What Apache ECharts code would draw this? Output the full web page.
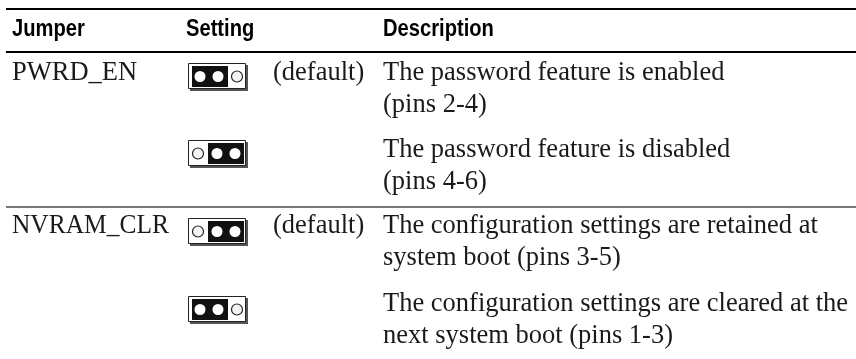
<!DOCTYPE html>
<html><head><meta charset="utf-8">
<style>html,body{margin:0;padding:0;background:#fff}#c{width:856px;height:359px}</style>
<script src="https://cdn.jsdelivr.net/npm/echarts@6/dist/echarts.min.js"></script>
</head><body><div id="c"></div>
<script>
const headers = ['Jumper', 'Setting', 'Description'];
const jumpers = ['PWRD_EN', '', 'NVRAM_CLR', ''];
const jumperScale = [1, 1, 0.96, 1];
const shorted = ['left', 'right', 'right', 'left'];
const defaults = ['(default)', '', '(default)', ''];
const descriptions = [
  ['The password feature is enabled', '(pins 2-4)'],
  ['The password feature is disabled', '(pins 4-6)'],
  ['The configuration settings are retained at', 'system boot (pins 3-5)'],
  ['The configuration settings are cleared at the', 'next system boot (pins 1-3)']
];
const headerX = [12, 186, 383];
const headerY = 29;
const rowY = [73, 150, 226, 304];
const iconTop = [63, 140, 218, 296];
const lineGap = 32;
const defaultX = 273;
const rules = [[6, 9, '#000'], [6, 52, '#000'], [6, 207, '#777']];
const SERIF = '"Liberation Serif", serif';
const SANS = '"Liberation Sans", sans-serif';
const BODY = '26.5px ' + SERIF;

function renderIcon(p, api) {
  const side = shorted[p.dataIndex];
  const [x, y] = api.coord([188, iconTop[p.dataIndex]]);
  const kids = [];
  kids.push({type:'rect', shape:{x:x+2, y:y+2, width:58, height:26}, style:{fill:'#555'}});
  kids.push({type:'rect', shape:{x:x+.5, y:y+.5, width:57, height:25}, style:{fill:'#fff', stroke:'#222', lineWidth:1}});
  const bx = side === 'left' ? x+4 : x+20;
  kids.push({type:'rect', shape:{x:bx, y:y+3, width:36, height:21}, style:{fill:'#111'}});
  const cs = side === 'left' ? [12, 30] : [29, 47];
  cs.forEach(c => kids.push({type:'circle', shape:{cx:x+c, cy:y+13.5, r:5.5}, style:{fill:'#fff'}}));
  kids.push({type:'circle', shape:{cx:x+(side === 'left' ? 49 : 10), cy:y+13.5, r:5.5}, style:{fill:'#f4f4f4', stroke:'#222', lineWidth:1.2}});
  return {type:'group', children:kids};
}
function renderRule(p, api) {
  const r = rules[p.dataIndex];
  const a = api.coord([r[0], r[1]]), b = api.coord([856, r[1]]);
  return {type:'rect', shape:{x:a[0], y:a[1]-1, width:b[0]-a[0], height:2}, style:{fill:r[2]}};
}
function renderText(p, api) {
  const i = p.dataIndex;
  const y = api.coord([0, rowY[i]])[1];
  const kids = [
    {type:'text', x:12, y, scaleX:jumperScale[i], style:{text:jumpers[i], font:BODY, fill:'#1a1a1a', verticalAlign:'middle'}},
    {type:'text', x:defaultX, y, style:{text:defaults[i], font:BODY, fill:'#1a1a1a', verticalAlign:'middle'}}
  ];
  descriptions[i].forEach((t, k) => kids.push({type:'text', x:383, y:y+k*lineGap, style:{text:t, font:BODY, fill:'#1a1a1a', verticalAlign:'middle'}}));
  return {type:'group', children:kids};
}
function renderHead(p, api) {
  const i = p.dataIndex;
  return {type:'text', x:api.coord([headerX[i],0])[0], y:api.coord([0,headerY])[1], scaleX:0.84, style:{text:headers[i], font:'bold 24px '+SANS, fill:'#000', verticalAlign:'middle'}};
}
const chart = echarts.init(document.getElementById('c'), null, {renderer:'canvas'});
chart.setOption({
  animation:false,
  backgroundColor:'#fff',
  grid:{left:0, right:0, top:0, bottom:0},
  xAxis:{type:'value', min:0, max:856, show:false},
  yAxis:{type:'value', min:0, max:359, inverse:true, show:false},
  series:[
    {type:'custom', renderItem:renderRule, data:rules.map((_, i)=>[i]), silent:true},
    {type:'custom', renderItem:renderHead, data:headers.map((_, i)=>[i]), silent:true},
    {type:'custom', renderItem:renderIcon, data:shorted.map((_, i)=>[i]), silent:true},
    {type:'custom', renderItem:renderText, data:jumpers.map((_, i)=>[i]), silent:true}
  ]
});
</script></body></html>
